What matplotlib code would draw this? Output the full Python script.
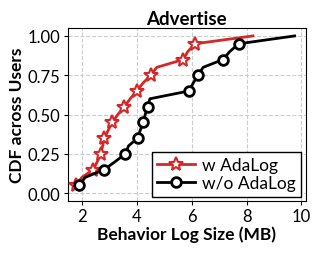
import matplotlib
matplotlib.use("Agg")
import matplotlib.pyplot as plt

plt.rcParams['font.family'] = ['Lato', 'DejaVu Sans']

# CDF levels (every 0.05) and log sizes
cdf = [0.05, 0.10, 0.15, 0.20, 0.25, 0.30, 0.35, 0.40, 0.45, 0.50,
       0.55, 0.60, 0.65, 0.70, 0.75, 0.80, 0.85, 0.90, 0.95, 1.00]
size_ada = [1.78, 1.99, 2.41, 2.55, 2.68, 2.75, 2.81, 2.95, 3.10, 3.30,
            3.54, 3.75, 3.99, 4.22, 4.50, 4.72, 5.69, 5.85, 6.11, 8.23]
size_noada = [1.90, 2.11, 2.81, 3.20, 3.58, 3.69, 4.02, 4.12, 4.23, 4.30,
              4.39, 4.47, 5.90, 6.05, 6.23, 6.41, 7.14, 7.38, 7.71, 9.75]
marks = list(range(0, 19, 2))

fig = plt.figure(figsize=(3.19, 2.55), dpi=100)
ax = fig.add_axes([0.212, 0.208, 0.746, 0.678])

ax.plot(size_ada, cdf, color='#d62728', lw=2, marker='*', ms=10,
        mfc='white', mew=1.5, markevery=marks, label='w AdaLog', zorder=3)
ax.plot(size_noada, cdf, color='black', lw=2, marker='o', ms=7,
        mfc='white', mew=2, markevery=marks, label='w/o AdaLog', zorder=3)

ax.set_xlim(1.47, 10.15)
ax.set_ylim(-0.05, 1.05)
ax.set_xticks([2, 4, 6, 8, 10])
ax.set_yticks([0, 0.25, 0.5, 0.75, 1.0])
ax.set_yticklabels(['0.00', '0.25', '0.50', '0.75', '1.00'])
ax.tick_params(labelsize=12, length=3, pad=2)
ax.grid(True, ls='--', color='#cccccc', lw=0.8)
ax.set_axisbelow(True)

ax.set_title('Advertise', fontsize=13.5, fontweight='bold', pad=3)
ax.set_xlabel('Behavior Log Size (MB)', fontsize=12.5, fontweight='bold', labelpad=1)
ax.set_ylabel('CDF across Users', fontsize=12.5, fontweight='bold', labelpad=2)

leg = ax.legend(loc='lower right', fontsize=12.5, fancybox=False, framealpha=1,
                edgecolor='black', handlelength=2.2, borderpad=0.3,
                labelspacing=0.15, handletextpad=0.4, borderaxespad=0.25)
leg.get_frame().set_linewidth(1.0)

fig.savefig('out.png', dpi=100)
